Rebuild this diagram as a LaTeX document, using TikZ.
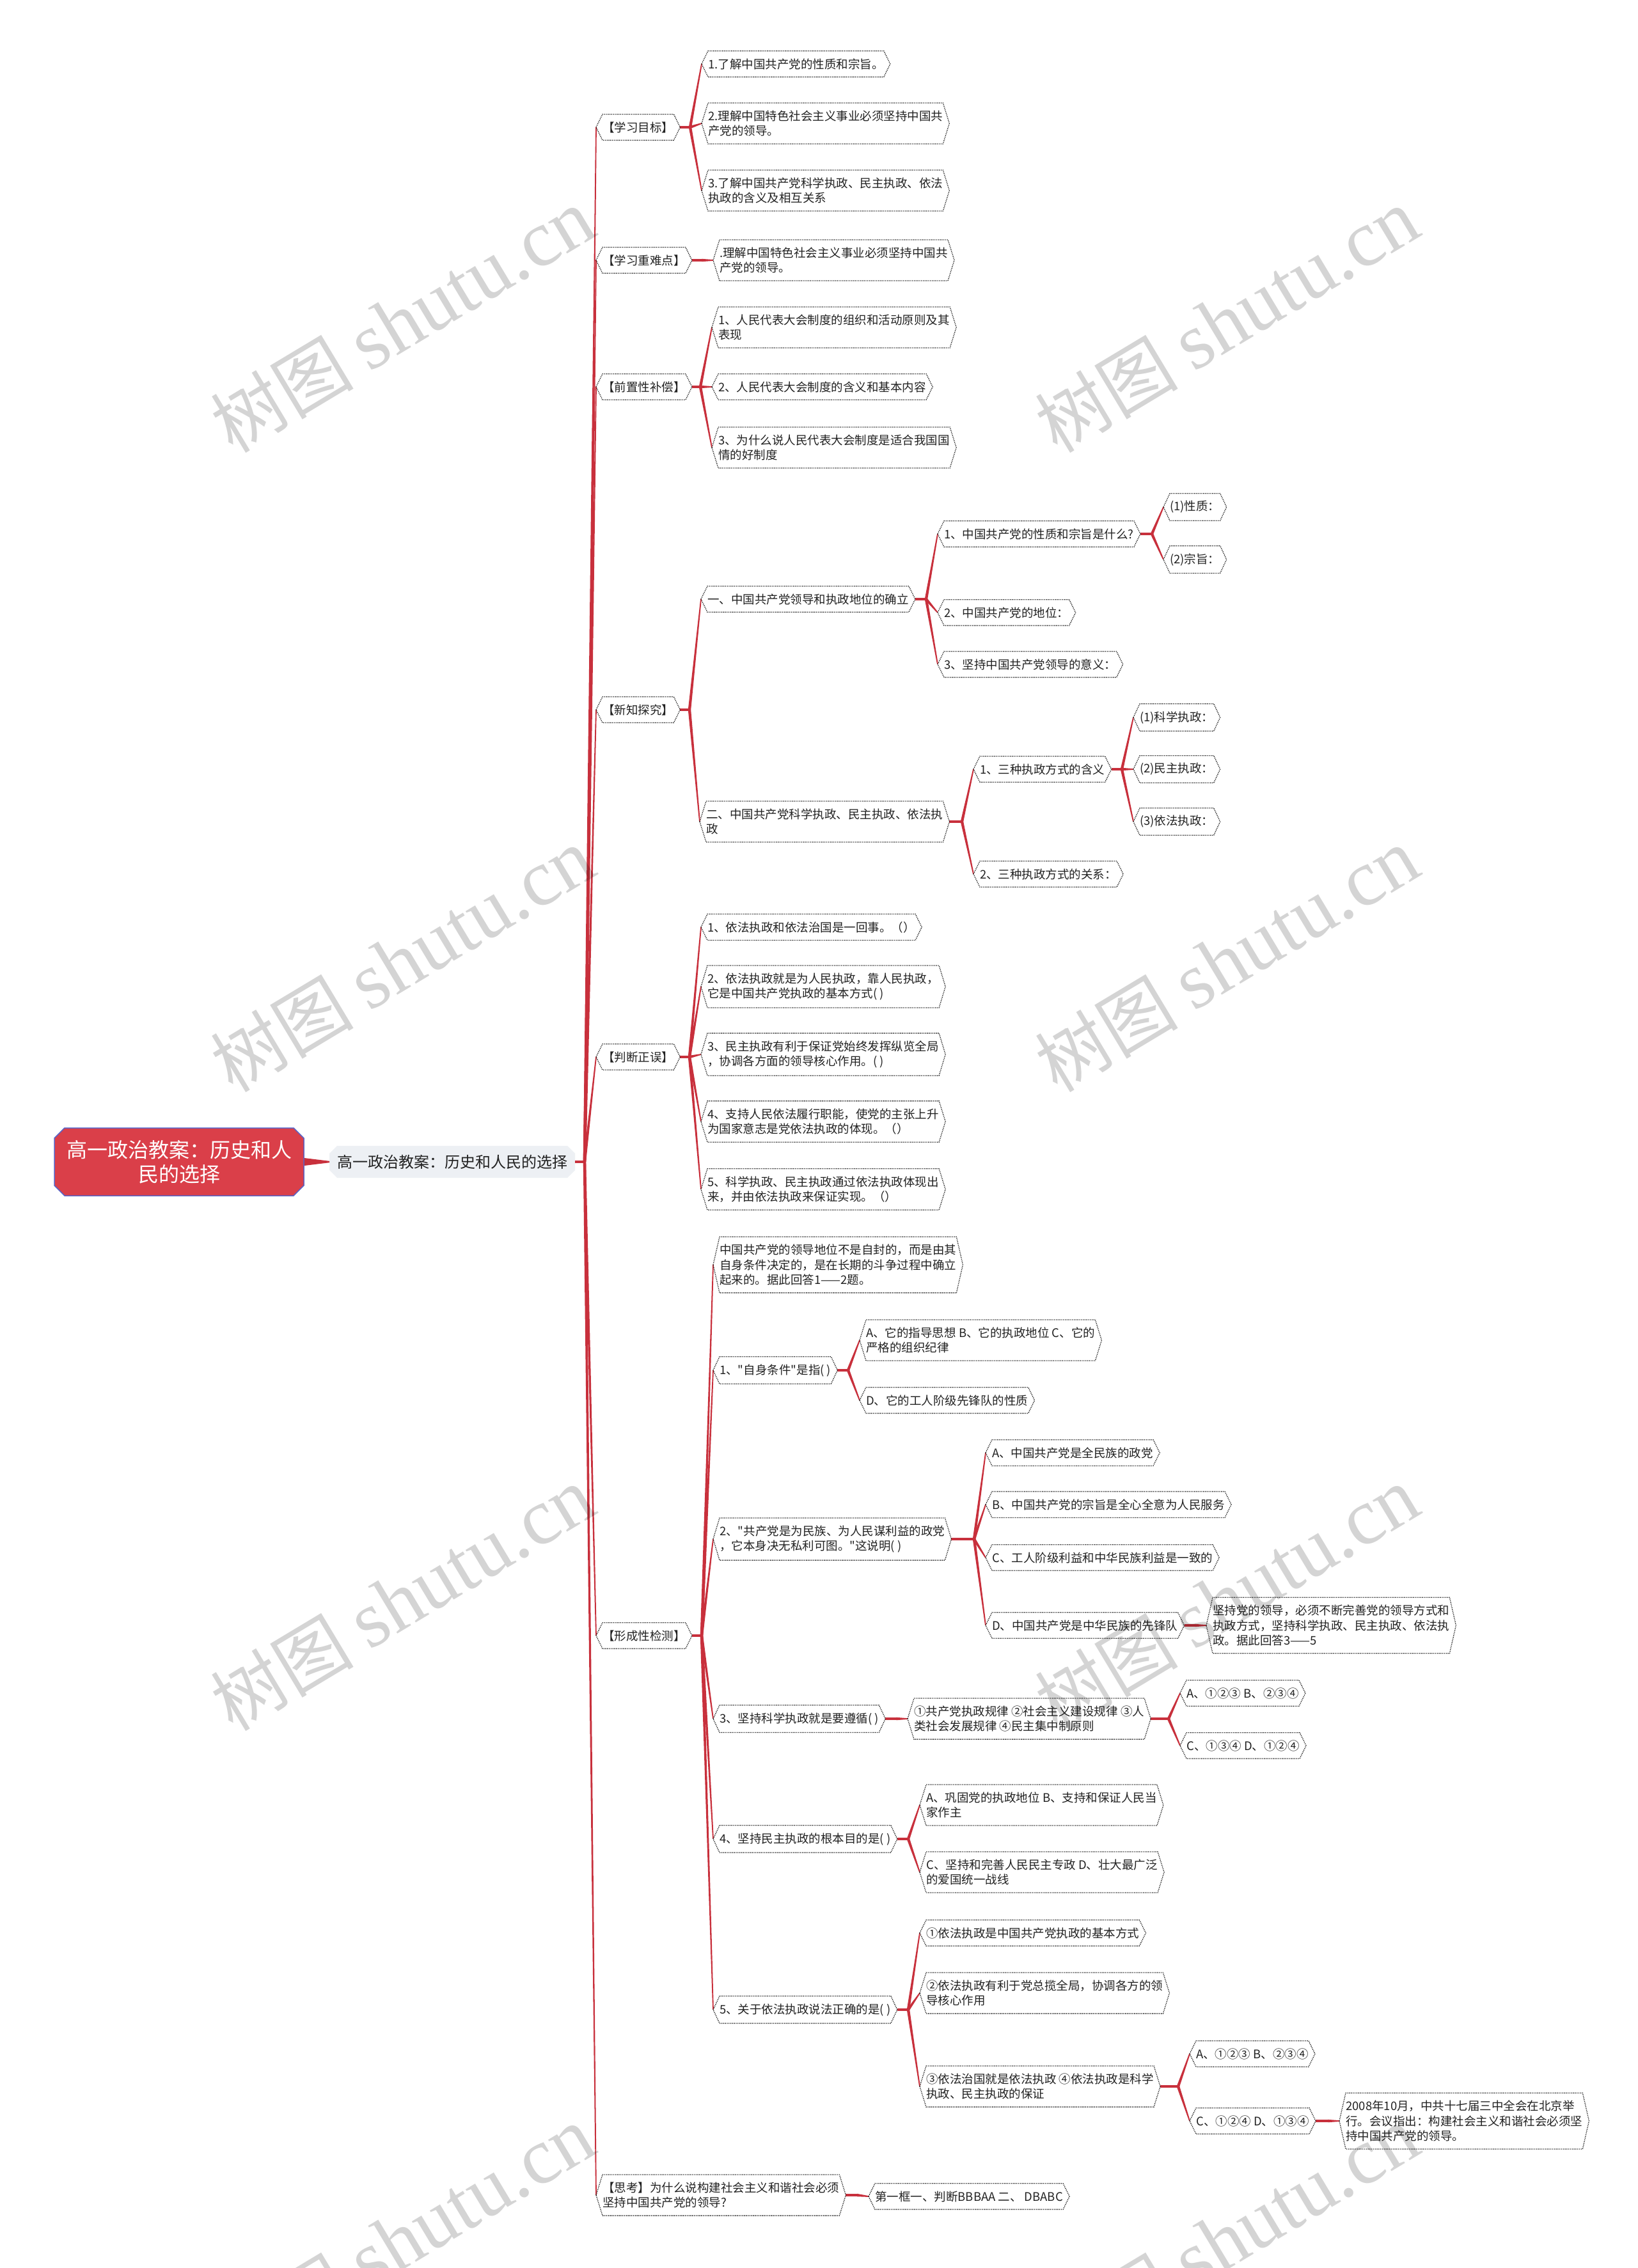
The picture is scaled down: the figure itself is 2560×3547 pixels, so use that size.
\documentclass[tikz,border=0pt]{standalone}
\usepackage{fontspec}
\newfontfamily\cjk{Noto Sans CJK SC}
\newfontfamily\wmlatin{Liberation Serif}
\usetikzlibrary{calc,shapes.misc}
\definecolor{linecol}{HTML}{C8303C}
\definecolor{rootfill}{HTML}{DA3F49}
\definecolor{rootedge}{HTML}{5B63C4}
\definecolor{lonefill}{HTML}{EDF0F4}
\definecolor{txt}{HTML}{222222}
\tikzset{
  leaf/.style={rectangle, anchor=west, inner xsep=10pt, inner ysep=11.5pt, align=left, text=txt, font=\cjk\fontsize{18.5}{23.5}\selectfont},
  hexline/.style={draw=black!85, line width=1.3pt, dash pattern=on 1.4pt off 1.4pt},
  rootbox/.style={chamfered rectangle, chamfered rectangle xsep=8pt, chamfered rectangle ysep=8pt, fill=rootfill, draw=rootedge, line width=1.5pt, text=white, align=center, minimum width=390pt, minimum height=106pt, font=\cjk\fontsize{32}{38}\selectfont, inner sep=0pt},
  lonebox/.style={chamfered rectangle, chamfered rectangle xsep=6pt, chamfered rectangle ysep=6pt, fill=lonefill, anchor=west, minimum height=50pt, inner xsep=6pt, font=\cjk\fontsize{24}{28}\selectfont, text=txt},
  stub/.style={draw=linecol, line width=4.5pt},
  watermark/.style={text=black, opacity=0.17, rotate=31, font=\cjk\fontsize{112}{112}\selectfont}
}
\newcommand\mmkids[2]{%
  \foreach \c [count=\k] in {#2} {%
    \ifnum\k=1
      \path let \p1=(#1.east), \p2=(\c.west) in coordinate (#1-b) at (\x2-18pt,\y1);
      \draw[stub] (#1.east) -- (#1-b);
    \fi
    \fill[linecol] ($(#1-b)!2.2pt!90:(\c.west)$) -- ($(\c.west)!0.9pt!-90:(#1-b)$) -- ($(\c.west)!0.9pt!90:(#1-b)$) -- ($(#1-b)!2.2pt!-90:(\c.west)$) -- cycle;
  }%
}
\begin{document}
\begin{tikzpicture}[x=1pt,y=-1pt]
\fill[white] (0,0) rectangle (2560,3547);
\useasboundingbox (0,0) rectangle (2560,3547);

% root and first level
\node[rootbox] (root) at (280,1817) {高一政治教案：历史和人\\民的选择};
\node[lonebox] (l1) at (515,1817) {高一政治教案：历史和人民的选择};

% second level
\node[leaf] (a) at (932,199) {【学习目标】};
\node[leaf] (b) at (932,407) {【学习重难点】};
\node[leaf] (c) at (932,605) {【前置性补偿】};
\node[leaf] (d) at (932,1110) {【新知探究】};
\node[leaf] (e) at (932,1653) {【判断正误】};
\node[leaf] (f) at (932,2558) {【形成性检测】};
\node[leaf] (g) at (932,3433) {【思考】为什么说构建社会主义和谐社会必须\\坚持中国共产党的领导?};

% 学习目标
\node[leaf] (a1) at (1097,100) {1.了解中国共产党的性质和宗旨。};
\node[leaf] (a2) at (1097,193) {2.理解中国特色社会主义事业必须坚持中国共\\产党的领导。};
\node[leaf] (a3) at (1097,298) {3.了解中国共产党科学执政、民主执政、依法\\执政的含义及相互关系};
% 学习重难点
\node[leaf] (b1) at (1115,407) {.理解中国特色社会主义事业必须坚持中国共\\产党的领导。};
% 前置性补偿
\node[leaf] (c1) at (1113,512) {1、人民代表大会制度的组织和活动原则及其\\表现};
\node[leaf] (c2) at (1113,605) {2、人民代表大会制度的含义和基本内容};
\node[leaf] (c3) at (1113,700) {3、为什么说人民代表大会制度是适合我国国\\情的好制度};
% 新知探究
\node[leaf] (d1) at (1096,937) {一、中国共产党领导和执政地位的确立};
\node[leaf] (d11) at (1466,835) {1、中国共产党的性质和宗旨是什么?};
\node[leaf] (d111) at (1819,793) {(1)性质：};
\node[leaf] (d112) at (1819,875) {(2)宗旨：};
\node[leaf] (d12) at (1466,958) {2、中国共产党的地位：};
\node[leaf] (d13) at (1466,1039) {3、坚持中国共产党领导的意义：};
\node[leaf] (d2) at (1094,1285) {二、中国共产党科学执政、民主执政、依法执\\政};
\node[leaf] (d21) at (1522,1203) {1、三种执政方式的含义};
\node[leaf] (d211) at (1772,1122) {(1)科学执政：};
\node[leaf] (d212) at (1772,1203) {(2)民主执政：};
\node[leaf] (d213) at (1772,1285) {(3)依法执政：};
\node[leaf] (d22) at (1522,1367) {2、三种执政方式的关系：};
% 判断正误
\node[leaf] (e1) at (1096,1450) {1、依法执政和依法治国是一回事。（）};
\node[leaf] (e2) at (1096,1543) {2、依法执政就是为人民执政，靠人民执政，\\它是中国共产党执政的基本方式( )};
\node[leaf] (e3) at (1096,1649) {3、民主执政有利于保证党始终发挥纵览全局\\，协调各方面的领导核心作用。( )};
\node[leaf] (e4) at (1096,1754) {4、支持人民依法履行职能，使党的主张上升\\为国家意志是党依法执政的体现。（）};
\node[leaf] (e5) at (1096,1860) {5、科学执政、民主执政通过依法执政体现出\\来，并由依法执政来保证实现。（）};
% 形成性检测
\node[leaf] (f0) at (1115,1978) {中国共产党的领导地位不是自封的，而是由其\\自身条件决定的，是在长期的斗争过程中确立\\起来的。据此回答1——2题。};
\node[leaf] (f1) at (1115,2143) {1、"自身条件"是指( )};
\node[leaf] (f11) at (1344,2096) {A、它的指导思想 B、它的执政地位 C、它的\\严格的组织纪律};
\node[leaf] (f12) at (1344,2190) {D、它的工人阶级先锋队的性质};
\node[leaf] (f2) at (1115,2407) {2、"共产党是为民族、为人民谋利益的政党\\，它本身决无私利可图。"这说明( )};
\node[leaf] (f21) at (1541,2272) {A、中国共产党是全民族的政党};
\node[leaf] (f22) at (1541,2353) {B、中国共产党的宗旨是全心全意为人民服务};
\node[leaf] (f23) at (1541,2436) {C、工人阶级利益和中华民族利益是一致的};
\node[leaf] (f24) at (1541,2542) {D、中国共产党是中华民族的先锋队};
\node[leaf] (f241) at (1886,2542) {坚持党的领导，必须不断完善党的领导方式和\\执政方式，坚持科学执政、民主执政、依法执\\政。据此回答3——5};
\node[leaf] (f3) at (1115,2688) {3、坚持科学执政就是要遵循( )};
\node[leaf] (f31) at (1419,2688) {①共产党执政规律 ②社会主义建设规律 ③人\\类社会发展规律 ④民主集中制原则};
\node[leaf] (f311) at (1845,2648) {A、①②③ B、②③④};
\node[leaf] (f312) at (1845,2730) {C、①③④ D、①②④};
\node[leaf] (f4) at (1115,2876) {4、坚持民主执政的根本目的是( )};
\node[leaf] (f41) at (1438,2823) {A、巩固党的执政地位 B、支持和保证人民当\\家作主};
\node[leaf] (f42) at (1438,2928) {C、坚持和完善人民民主专政 D、壮大最广泛\\的爱国统一战线};
\node[leaf] (f5) at (1115,3143) {5、关于依法执政说法正确的是( )};
\node[leaf] (f51) at (1438,3023) {①依法执政是中国共产党执政的基本方式};
\node[leaf] (f52) at (1438,3117) {②依法执政有利于党总揽全局，协调各方的领\\导核心作用};
\node[leaf] (f53) at (1438,3263) {③依法治国就是依法执政 ④依法执政是科学\\执政、民主执政的保证};
\node[leaf] (f531) at (1860,3212) {A、①②③ B、②③④};
\node[leaf] (f532) at (1860,3317) {C、①②④ D、①③④};
\node[leaf] (f5321) at (2094,3317) {2008年10月，中共十七届三中全会在北京举\\行。会议指出：构建社会主义和谐社会必须坚\\持中国共产党的领导。};
% 思考
\node[leaf] (g1) at (1358,3435) {第一框一、判断BBBAA 二、 DBABC};

% connectors
\fill[linecol] ([yshift=6pt]root.east) -- ([yshift=1.2pt]l1.west) -- ([yshift=-1.2pt]l1.west) -- ([yshift=-6pt]root.east) -- cycle;
\mmkids{l1}{a,b,c,d,e,f,g}
\mmkids{a}{a1,a2,a3}
\mmkids{b}{b1}
\mmkids{c}{c1,c2,c3}
\mmkids{d}{d1,d2}
\mmkids{d1}{d11,d12,d13}
\mmkids{d11}{d111,d112}
\mmkids{d2}{d21,d22}
\mmkids{d21}{d211,d212,d213}
\mmkids{e}{e1,e2,e3,e4,e5}
\mmkids{f}{f0,f1,f2,f3,f4,f5}
\mmkids{f1}{f11,f12}
\mmkids{f2}{f21,f22,f23,f24}
\mmkids{f24}{f241}
\mmkids{f3}{f31}
\mmkids{f31}{f311,f312}
\mmkids{f4}{f41,f42}
\mmkids{f5}{f51,f52,f53}
\mmkids{f53}{f531,f532}
\mmkids{f532}{f5321}
\mmkids{g}{g1}

% hexagonal dotted outlines
\foreach \n in {a,b,c,d,e,f,g,a1,a2,a3,b1,c1,c2,c3,d1,d11,d111,d112,d12,d13,d2,d21,d211,d212,d213,d22,e1,e2,e3,e4,e5,f0,f1,f11,f12,f2,f21,f22,f23,f24,f241,f3,f31,f311,f312,f4,f41,f42,f5,f51,f52,f53,f531,f532,f5321,g1}
  \draw[hexline] (\n.west) -- ([xshift=10pt]\n.north west) -- ([xshift=-10pt]\n.north east) -- (\n.east) -- ([xshift=-10pt]\n.south east) -- ([xshift=10pt]\n.south west) -- cycle;

% watermarks
\foreach \wx/\wy [count=\i] in {629/502,1918/502,629/1502,1918/1502,629/2501,1918/2501,629/3501,1918/3501}
  \node[watermark] (wm\i) at (\wx,\wy) {树图 {\wmlatin\fontsize{125}{125}\selectfont shutu.cn}};
\end{tikzpicture}
\end{document}
